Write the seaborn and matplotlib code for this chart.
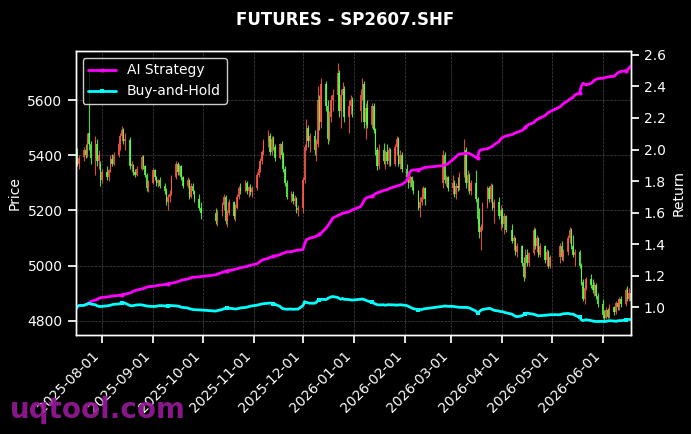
import numpy as np
import pandas as pd
import matplotlib
matplotlib.use("Agg")
import matplotlib.pyplot as plt
import matplotlib.dates as mdates
from matplotlib.ticker import MultipleLocator, FormatStrFormatter
import seaborn as sns

# ---------------- data ----------------
start_date = "2025-07-16"
end_date = "2026-06-18"
holidays = ["2025-10-01", "2025-10-02", "2025-10-03", "2025-10-06", "2025-10-07", "2025-10-08",
            "2026-01-01", "2026-01-02",
            "2026-02-16", "2026-02-17", "2026-02-18", "2026-02-19", "2026-02-20", "2026-02-23",
            "2026-04-06", "2026-05-01", "2026-05-04", "2026-05-05"]

price_open = [
    5380, 5410, 5370, 5395, 5420, 5400, 5480, 5440, 5390, 5440, 5380, 5370,
    5310, 5340, 5320, 5350, 5385, 5370, 5400, 5440, 5470, 5490, 5450, 5455, 5360, 5365, 5340, 5330, 5350, 5395, 5360, 5330, 5285,
    5300, 5345, 5320, 5300, 5310, 5290, 5270, 5230, 5250, 5260, 5320, 5370, 5340, 5360, 5320, 5290, 5310, 5250, 5290, 5270, 5240, 5210,
    5190, 5160, 5190, 5220, 5250, 5160, 5190, 5230, 5180, 5210, 5250, 5280, 5270, 5300, 5270, 5285, 5265,
    5280, 5330, 5350, 5380, 5410, 5450, 5470, 5410, 5460, 5430, 5390, 5440, 5400, 5350, 5300, 5250, 5260, 5235, 5245, 5200,
    5210, 5310, 5430, 5500, 5450, 5470, 5420, 5440, 5600, 5520, 5660, 5580, 5460, 5540, 5600, 5620, 5700, 5560, 5620, 5640, 5540, 5580, 5600,
    5560, 5620, 5660, 5520, 5570, 5510, 5580, 5490, 5420, 5360, 5420, 5380, 5410, 5380, 5420, 5370, 5430, 5460, 5370, 5400,
    5350, 5320, 5300, 5320, 5285, 5270, 5210, 5230, 5250, 5280, 5300, 5400, 5310, 5320,
    5280, 5300, 5260, 5290, 5280, 5330, 5420, 5300, 5330, 5270, 5300, 5240, 5170, 5120, 5140, 5220, 5280, 5240, 5290, 5210, 5230, 5180,
    5200, 5150, 5180, 5130, 5090, 5100, 5050, 5070, 5010, 4960, 5040, 5010, 5045, 5130, 5070, 5100, 5040, 5070, 5020, 5050, 5000,
    5030, 5070, 5030, 5050, 5100, 5130, 5070, 5040, 5050, 5000, 4940, 4880, 4920, 4950, 4930, 4910, 4930, 4890,
    4860, 4820, 4810, 4840, 4815, 4850, 4830, 4865, 4850, 4880, 4860, 4910, 4880, 4900,
]
price_high = [
    5420, 5425, 5400, 5430, 5440, 5480, 5710, 5450, 5470, 5460, 5420, 5380,
    5350, 5360, 5350, 5400, 5405, 5410, 5450, 5480, 5505, 5500, 5480, 5465, 5380, 5370, 5350, 5360, 5400, 5400, 5365, 5335, 5310,
    5355, 5350, 5325, 5315, 5320, 5300, 5280, 5260, 5275, 5330, 5380, 5375, 5370, 5365, 5325, 5320, 5315, 5300, 5300, 5275, 5260, 5230,
    5210, 5200, 5230, 5260, 5255, 5200, 5240, 5235, 5225, 5260, 5290, 5300, 5310, 5305, 5290, 5295, 5290,
    5340, 5360, 5390, 5420, 5460, 5490, 5480, 5470, 5470, 5440, 5445, 5450, 5410, 5360, 5310, 5270, 5270, 5255, 5250, 5220,
    5320, 5440, 5530, 5510, 5480, 5490, 5460, 5650, 5620, 5680, 5670, 5600, 5560, 5620, 5640, 5734, 5710, 5640, 5665, 5650, 5600, 5620, 5610,
    5640, 5680, 5670, 5590, 5600, 5590, 5590, 5500, 5430, 5440, 5445, 5420, 5440, 5430, 5425, 5440, 5470, 5465, 5420, 5410,
    5370, 5340, 5330, 5325, 5310, 5275, 5250, 5260, 5290, 5285, 5420, 5410, 5330, 5325,
    5330, 5310, 5300, 5320, 5340, 5460, 5430, 5345, 5335, 5310, 5345, 5250, 5210, 5150, 5230, 5290, 5290, 5300, 5295, 5240, 5250, 5220,
    5210, 5190, 5185, 5150, 5110, 5105, 5080, 5075, 5030, 5060, 5060, 5050, 5140, 5135, 5110, 5105, 5080, 5075, 5060, 5055, 5040,
    5080, 5090, 5060, 5110, 5140, 5135, 5110, 5060, 5055, 5010, 4950, 4930, 4960, 4970, 4950, 4940, 4935, 4900,
    4880, 4840, 4850, 4845, 4860, 4855, 4870, 4880, 4885, 4890, 4920, 4925, 4920, 4910,
]
price_low = [
    5350, 5360, 5350, 5380, 5390, 5395, 5420, 5370, 5330, 5360, 5350, 5290,
    5300, 5310, 5305, 5340, 5360, 5365, 5395, 5420, 5450, 5440, 5420, 5350, 5340, 5330, 5320, 5325, 5345, 5350, 5320, 5270, 5265,
    5295, 5310, 5290, 5285, 5280, 5260, 5220, 5200, 5230, 5255, 5315, 5330, 5330, 5310, 5280, 5280, 5240, 5245, 5260, 5230, 5200, 5170,
    5150, 5145, 5180, 5200, 5150, 5140, 5185, 5170, 5160, 5205, 5240, 5260, 5265, 5260, 5250, 5255, 5250,
    5275, 5320, 5340, 5370, 5400, 5430, 5400, 5400, 5420, 5380, 5385, 5390, 5340, 5290, 5240, 5230, 5225, 5215, 5190, 5180,
    5190, 5300, 5420, 5430, 5410, 5400, 5380, 5430, 5490, 5500, 5560, 5440, 5450, 5520, 5560, 5600, 5540, 5500, 5560, 5520, 5480, 5550, 5540,
    5520, 5600, 5500, 5460, 5500, 5500, 5480, 5400, 5345, 5350, 5370, 5350, 5370, 5360, 5360, 5360, 5400, 5360, 5350, 5340,
    5310, 5280, 5285, 5275, 5260, 5200, 5175, 5220, 5240, 5220, 5280, 5300, 5290, 5270,
    5260, 5250, 5240, 5270, 5275, 5320, 5280, 5270, 5260, 5255, 5230, 5155, 5100, 5055, 5130, 5210, 5230, 5230, 5200, 5155, 5170, 5130,
    5140, 5115, 5120, 5080, 5055, 5040, 5030, 5000, 4945, 4955, 5000, 5000, 5040, 5060, 5050, 5030, 5030, 5010, 5000, 4990, 4990,
    5010, 5020, 5015, 5040, 5080, 5060, 5030, 5000, 4990, 4930, 4870, 4860, 4910, 4920, 4900, 4890, 4880, 4850,
    4810, 4800, 4805, 4810, 4810, 4820, 4825, 4840, 4840, 4850, 4855, 4870, 4870, 4860,
]
price_close = [
    5410, 5370, 5390, 5420, 5400, 5460, 5440, 5390, 5450, 5380, 5400, 5310,
    5340, 5320, 5345, 5390, 5370, 5400, 5440, 5470, 5490, 5450, 5460, 5360, 5370, 5340, 5330, 5350, 5395, 5360, 5330, 5280, 5300,
    5345, 5320, 5300, 5310, 5290, 5270, 5230, 5250, 5260, 5320, 5370, 5340, 5360, 5320, 5290, 5310, 5250, 5290, 5270, 5240, 5210, 5190,
    5160, 5190, 5220, 5250, 5160, 5190, 5230, 5180, 5210, 5250, 5280, 5270, 5300, 5270, 5285, 5265, 5280,
    5330, 5350, 5380, 5410, 5450, 5470, 5410, 5460, 5430, 5390, 5440, 5400, 5350, 5300, 5250, 5260, 5235, 5245, 5200, 5210,
    5310, 5430, 5500, 5450, 5470, 5420, 5440, 5600, 5520, 5660, 5580, 5460, 5540, 5600, 5620, 5700, 5560, 5620, 5640, 5540, 5580, 5600, 5560,
    5620, 5660, 5520, 5570, 5510, 5580, 5490, 5420, 5360, 5420, 5380, 5410, 5380, 5420, 5370, 5430, 5460, 5370, 5400, 5350,
    5320, 5300, 5320, 5285, 5270, 5210, 5230, 5250, 5280, 5240, 5400, 5310, 5320, 5280,
    5300, 5260, 5290, 5280, 5330, 5420, 5300, 5330, 5270, 5300, 5240, 5170, 5120, 5140, 5220, 5280, 5240, 5290, 5210, 5230, 5180, 5200,
    5150, 5180, 5130, 5090, 5100, 5050, 5070, 5010, 4960, 5040, 5010, 5045, 5130, 5070, 5100, 5040, 5070, 5020, 5050, 5000, 5030,
    5070, 5030, 5050, 5100, 5130, 5070, 5040, 5050, 5000, 4940, 4880, 4920, 4950, 4930, 4910, 4930, 4890, 4860,
    4820, 4810, 4840, 4815, 4850, 4830, 4865, 4850, 4880, 4860, 4910, 4880, 4900, 4870,
]
ai_strategy = [
    1.000, 1.005, 1.010, 1.012, 1.015, 1.020, 1.025, 1.035, 1.045, 1.050, 1.055, 1.060,
    1.062, 1.064, 1.066, 1.068, 1.070, 1.072, 1.074, 1.076, 1.078, 1.080, 1.082, 1.090, 1.095, 1.100, 1.105, 1.108, 1.115, 1.118, 1.122, 1.126, 1.130,
    1.132, 1.134, 1.136, 1.138, 1.140, 1.143, 1.146, 1.148, 1.150, 1.152, 1.158, 1.162, 1.166, 1.170, 1.174, 1.178, 1.182, 1.186, 1.190, 1.190, 1.192, 1.194,
    1.205, 1.210, 1.220, 1.224, 1.228, 1.230, 1.232, 1.238, 1.240, 1.244, 1.248, 1.250, 1.256, 1.258, 1.262, 1.265, 1.268,
    1.275, 1.282, 1.290, 1.297, 1.302, 1.310, 1.315, 1.320, 1.322, 1.325, 1.332, 1.338, 1.342, 1.346, 1.350, 1.352, 1.355, 1.358, 1.360, 1.362,
    1.365, 1.400, 1.427, 1.432, 1.437, 1.445, 1.450, 1.455, 1.462, 1.470, 1.500, 1.515, 1.530, 1.545, 1.565, 1.580, 1.585, 1.590, 1.595, 1.598, 1.605, 1.612, 1.617,
    1.638, 1.655, 1.675, 1.690, 1.695, 1.705, 1.712, 1.720, 1.725, 1.728, 1.740, 1.742, 1.745, 1.750, 1.755, 1.765, 1.768, 1.772, 1.775, 1.778,
    1.800, 1.830, 1.860, 1.868, 1.870, 1.872, 1.874, 1.878, 1.882, 1.886, 1.898, 1.900, 1.904, 1.910,
    1.935, 1.945, 1.955, 1.965, 1.972, 1.974, 1.975, 1.978, 1.975, 1.970, 1.950, 1.945, 1.990, 1.998, 2.000, 2.005, 2.010, 2.015, 2.020, 2.030, 2.050, 2.065,
    2.075, 2.080, 2.085, 2.095, 2.100, 2.105, 2.110, 2.120, 2.130, 2.140, 2.150, 2.158, 2.170, 2.180, 2.190, 2.195, 2.200, 2.215, 2.225, 2.235, 2.240,
    2.270, 2.280, 2.290, 2.310, 2.320, 2.325, 2.330, 2.345, 2.360, 2.400, 2.420, 2.415, 2.410, 2.420, 2.430, 2.440, 2.445, 2.450,
    2.452, 2.455, 2.458, 2.460, 2.462, 2.465, 2.475, 2.485, 2.490, 2.495, 2.500, 2.505, 2.515, 2.530,
]
buy_and_hold = [
    1.000, 1.005, 1.010, 1.012, 1.015, 1.020, 1.025, 1.020, 1.015, 1.008, 1.005, 1.004,
    1.005, 1.008, 1.010, 1.012, 1.015, 1.018, 1.020, 1.022, 1.025, 1.028, 1.025, 1.010, 1.008, 1.010, 1.012, 1.014, 1.015, 1.012, 1.010, 1.008, 1.006,
    1.004, 1.004, 1.006, 1.008, 1.010, 1.008, 1.006, 1.008, 1.010, 1.010, 1.008, 1.006, 1.004, 1.000, 0.998, 0.995, 0.990, 0.988, 0.985, 0.984, 0.983, 0.982,
    0.975, 0.978, 0.985, 0.990, 0.993, 0.994, 0.993, 0.990, 0.988, 0.990, 0.992, 0.995, 0.998, 1.000, 1.003, 1.006, 1.008,
    1.012, 1.015, 1.018, 1.020, 1.022, 1.025, 1.026, 1.025, 1.022, 1.018, 1.005, 0.995, 0.990, 0.988, 0.987, 0.988, 0.986, 0.987, 0.988, 0.987,
    1.010, 1.035, 1.030, 1.028, 1.025, 1.025, 1.030, 1.040, 1.045, 1.050, 1.048, 1.055, 1.060, 1.065, 1.067, 1.062, 1.055, 1.050, 1.055, 1.050, 1.048, 1.046, 1.045,
    1.050, 1.052, 1.048, 1.045, 1.040, 1.030, 1.025, 1.020, 1.016, 1.014, 1.015, 1.012, 1.014, 1.016, 1.015, 1.014, 1.012, 1.014, 1.015, 1.014,
    1.010, 1.005, 1.000, 0.995, 0.990, 0.985, 0.983, 0.985, 0.988, 0.990, 1.005, 1.008, 1.006, 1.005,
    1.005, 1.003, 1.002, 1.000, 0.999, 0.998, 0.999, 0.997, 0.995, 0.990, 0.975, 0.962, 0.970, 0.980, 0.985, 0.990, 0.993, 0.990, 0.985, 0.980, 0.975, 0.972,
    0.972, 0.968, 0.965, 0.955, 0.948, 0.942, 0.940, 0.945, 0.952, 0.958, 0.962, 0.960, 0.955, 0.952, 0.948, 0.945, 0.946, 0.948, 0.950, 0.950, 0.952,
    0.952, 0.955, 0.958, 0.960, 0.958, 0.955, 0.956, 0.950, 0.935, 0.920, 0.915, 0.918, 0.920, 0.915, 0.912, 0.910, 0.909, 0.909,
    0.910, 0.908, 0.910, 0.912, 0.914, 0.912, 0.910, 0.912, 0.915, 0.914, 0.918, 0.920, 0.922, 0.922,
]

# ---------------- build frame ----------------
dates = pd.bdate_range(start_date, end_date)
dates = dates[~dates.isin(pd.to_datetime(holidays))]
df = pd.DataFrame({
    "date": dates,
    "open": price_open, "high": price_high, "low": price_low, "close": price_close,
    "AI Strategy": ai_strategy, "Buy-and-Hold": buy_and_hold,
})

# ---------------- style ----------------
sns.set_theme(style="ticks")
plt.rcParams.update({
    "figure.facecolor": "black", "axes.facecolor": "black",
    "axes.edgecolor": "white", "axes.labelcolor": "white",
    "xtick.color": "white", "ytick.color": "white", "text.color": "white",
    "font.family": ["DejaVu Sans"], "font.size": 10,
    "xtick.labelsize": 10, "ytick.labelsize": 10, "axes.labelsize": 10,
    "legend.fontsize": 10, "axes.linewidth": 1.0,
})

fig = plt.figure(figsize=(6.91, 4.34), dpi=100)
ax = fig.add_axes([0.1096, 0.228, 0.8031, 0.6545])

up = df["close"] >= df["open"]
colors = np.where(up, "#ff5a4a", "#5cff48")
ax.vlines(df["date"], df["low"], df["high"], colors=colors, linewidth=0.8, alpha=0.85, zorder=2)
body = (df["close"] - df["open"]).abs().clip(lower=3)
ax.bar(df["date"], body, bottom=df[["open", "close"]].min(axis=1), width=0.9,
       color=colors, alpha=0.85, linewidth=0, zorder=2)

ax.set_ylim(4748, 5778)
ax.set_xlim(df["date"].iloc[0], df["date"].iloc[-1])
ax.set_ylabel("Price")
ax.grid(True, color="#777777", linestyle="--", linewidth=0.5, alpha=0.6)
ax.xaxis.set_major_locator(mdates.MonthLocator())
ax.xaxis.set_major_formatter(mdates.DateFormatter("%Y-%m-%d"))
plt.setp(ax.get_xticklabels(), rotation=45, ha="right")

ax2 = ax.twinx()
sns.lineplot(data=df, x="date", y="AI Strategy", ax=ax2, color="magenta", linewidth=2,
             marker="o", markersize=3, markevery=20, markeredgewidth=0, label="AI Strategy")
sns.lineplot(data=df, x="date", y="Buy-and-Hold", ax=ax2, color="cyan", linewidth=2,
             marker="s", markersize=3, markevery=20, markeredgewidth=0, label="Buy-and-Hold")
ax2.set_ylim(0.823, 2.625)
ax2.yaxis.set_major_locator(MultipleLocator(0.2))
ax2.yaxis.set_major_formatter(FormatStrFormatter("%.1f"))
ax2.set_ylabel("Return")
ax2.set_xlabel("")
ax.set_xlabel("")
ax2.grid(False)
for sp in list(ax.spines.values()) + list(ax2.spines.values()):
    sp.set_color("white")
ax2.legend(loc="upper left", facecolor="black", edgecolor="white", framealpha=0.8,
           labelcolor="white")

fig.suptitle("FUTURES - SP2607.SHF", fontsize=12, fontweight="bold", color="white", y=0.975)
fig.text(0.0145, 0.037, "uqtool.com", fontsize=20, fontweight="bold", color="#9a1a9a",
         alpha=0.9, va="baseline", ha="left")

fig.savefig("out.png", dpi=100, facecolor="black")
